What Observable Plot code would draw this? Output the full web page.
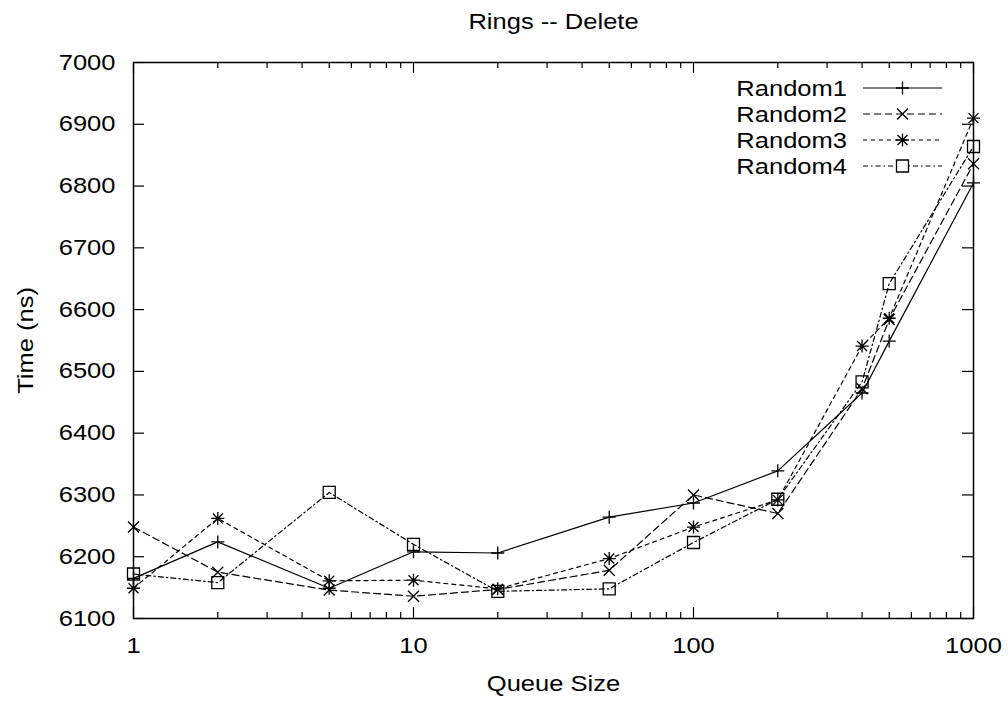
<!DOCTYPE html>
<html>
<head>
<meta charset="utf-8">
<script src="https://cdn.jsdelivr.net/npm/d3@7"></script>
<script src="https://cdn.jsdelivr.net/npm/@observablehq/plot@0.6"></script>
<style>
  html, body { margin: 0; padding: 0; background: #fff; }
  #chart svg { display: block; }
</style>
</head>
<body>
<div id="chart"></div>
<script>
// Delete timings (ns) for four random workloads on the ring queue
const queueSizes = [1, 2, 5, 10, 20, 50, 100, 200, 400, 500, 1000];
const random1 = [6165, 6224, 6149, 6208, 6206, 6264, 6287, 6339, 6465, 6549, 6805];
const random2 = [6248, 6175, 6146, 6136, 6147, 6178, 6300, 6270, 6472, 6584, 6836];
const random3 = [6149, 6262, 6161, 6162, 6148, 6197, 6248, 6292, 6541, 6586, 6910];
const random4 = [6172, 6158, 6304, 6220, 6144, 6148, 6223, 6293, 6483, 6642, 6864];
const seriesNames = ["Random1", "Random2", "Random3", "Random4"];

// Axis ticks
const xMajorTicks = [1, 10, 100, 1000];
const xMinorTicks = [2, 3, 4, 5, 6, 7, 8, 9, 20, 30, 40, 50, 60, 70, 80, 90, 200, 300, 400, 500, 600, 700, 800, 900];
const yTicks = [6100, 6200, 6300, 6400, 6500, 6600, 6700, 6800, 6900, 7000];

const titleText = "Rings -- Delete";
const xLabel = "Queue Size";
const yLabel = "Time (ns)";

// Layout
const W = 1008, H = 703;
const M = {top: 62, right: 35, bottom: 85, left: 133};
const innerW = W - M.left - M.right;
const innerH = H - M.top - M.bottom;
const ink = "#000";
const FONT = "'Liberation Sans', Arial, Helvetica, sans-serif";
const STRETCH = 1.16;

// gnuplot-style point symbols (fixed size, stroked)
const plusSym = {draw(c) { const r = 6.5; c.moveTo(-r, 0); c.lineTo(r, 0); c.moveTo(0, -r); c.lineTo(0, r); }};
const timesSym = {draw(c) { const r = 5.5; c.moveTo(-r, -r); c.lineTo(r, r); c.moveTo(-r, r); c.lineTo(r, -r); }};
const starSym = {draw(c) {
  const r = 6.5, q = 5;
  c.moveTo(-r, 0); c.lineTo(r, 0); c.moveTo(0, -r); c.lineTo(0, r);
  c.moveTo(-q, -q); c.lineTo(q, q); c.moveTo(-q, q); c.lineTo(q, -q);
}};
const squareSym = {draw(c) { const r = 6; c.moveTo(-r, -r); c.lineTo(r, -r); c.lineTo(r, r); c.lineTo(-r, r); c.closePath(); }};

const seriesValues = [random1, random2, random3, random4];
const seriesStyle = [
  {dash: null, symbol: plusSym},
  {dash: "7,4", symbol: timesSym},
  {dash: "4,4", symbol: starSym},
  {dash: "5,3,1.5,3", symbol: squareSym}
];

const series = seriesNames.map((name, k) => ({
  name,
  ...seriesStyle[k],
  rows: queueSizes.map((q, i) => ({size: q, time: seriesValues[k][i]}))
}));

const marks = [
  // inward ticks on all four sides
  Plot.ruleX(xMajorTicks, {x: d => d, insetTop: innerH - 11, stroke: ink, strokeWidth: 1.2}),
  Plot.ruleX(xMajorTicks, {x: d => d, insetBottom: innerH - 11, stroke: ink, strokeWidth: 1.2}),
  Plot.ruleX(xMinorTicks, {x: d => d, insetTop: innerH - 6, stroke: ink, strokeWidth: 1.2}),
  Plot.ruleX(xMinorTicks, {x: d => d, insetBottom: innerH - 6, stroke: ink, strokeWidth: 1.2}),
  Plot.ruleY(yTicks, {y: d => d, insetRight: innerW - 11, stroke: ink, strokeWidth: 1.2}),
  Plot.ruleY(yTicks, {y: d => d, insetLeft: innerW - 11, stroke: ink, strokeWidth: 1.2}),
  Plot.axisX(xMajorTicks, {tickSize: 0, tickPadding: 19, tickFormat: d => String(d), label: null, fill: ink}),
  Plot.axisY(yTicks, {tickSize: 0, tickPadding: 18, tickFormat: d => String(d), label: null, fill: ink}),
  ...series.flatMap(s => [
    Plot.line(s.rows, {x: "size", y: "time", stroke: ink, strokeWidth: 1.2, strokeDasharray: s.dash}),
    Plot.dot(s.rows, {x: "size", y: "time", symbol: s.symbol, r: 6, stroke: ink, fill: "none", strokeWidth: 1.3})
  ]),
  Plot.frame({stroke: ink, strokeWidth: 1.5}),
  Plot.text([titleText], {frameAnchor: "top", dy: -49, lineAnchor: "top", textAnchor: "middle", fill: ink}),
  Plot.text([xLabel], {frameAnchor: "bottom", dy: 57, lineAnchor: "top", textAnchor: "middle", fill: ink}),
  Plot.text([yLabel], {frameAnchor: "middle", dx: -innerW / 2 - 108, rotate: -90, textAnchor: "middle", lineAnchor: "middle", fill: ink})
];

const svg = Plot.plot({
  width: W,
  height: H,
  marginTop: M.top,
  marginRight: M.right,
  marginBottom: M.bottom,
  marginLeft: M.left,
  style: {fontFamily: FONT, fontSize: "22px", color: ink, background: "#fff"},
  x: {type: "log", domain: [1, 1000]},
  y: {domain: [6100, 7000]},
  marks
});

document.getElementById("chart").appendChild(svg);

// Key in the upper right corner of the frame
const key = {textRight: W - M.right - 126, lineLeft: W - M.right - 110, lineRight: W - M.right - 31, top: M.top + 26, step: 26};
const g = d3.select(svg).append("g")
  .attr("font-family", FONT)
  .attr("font-size", 22)
  .attr("fill", ink);
series.forEach((s, i) => {
  const y = key.top + i * key.step;
  g.append("text")
    .attr("x", key.textRight)
    .attr("y", y)
    .attr("dy", "0.36em")
    .attr("text-anchor", "end")
    .text(s.name);
  g.append("line")
    .attr("x1", key.lineLeft).attr("x2", key.lineRight)
    .attr("y1", y).attr("y2", y)
    .attr("stroke", ink).attr("stroke-width", 1.2)
    .attr("stroke-dasharray", s.dash);
  g.append("path")
    .attr("d", d3.symbol(s.symbol)())
    .attr("transform", `translate(${(key.lineLeft + key.lineRight) / 2},${y})`)
    .attr("fill", s.symbol === squareSym ? "#fff" : "none")
    .attr("stroke", ink).attr("stroke-width", 1.3);
});

// The lettering is set slightly wide, in the manner of the plotting terminal font
svg.querySelectorAll("text").forEach(t => {
  if (t.querySelector("tspan")) return;
  const tf = t.getAttribute("transform") || "";
  if (tf.includes("rotate")) {
    // rotated label: widen along its own baseline
    t.setAttribute("transform", `${tf} scale(${STRETCH},1)`);
    t.setAttribute("text-anchor", "middle");
    return;
  }
  const len = t.getComputedTextLength();
  if (len > 0) {
    t.setAttribute("textLength", (len * STRETCH).toFixed(1));
    t.setAttribute("lengthAdjust", "spacingAndGlyphs");
  }
});
</script>
</body>
</html>
